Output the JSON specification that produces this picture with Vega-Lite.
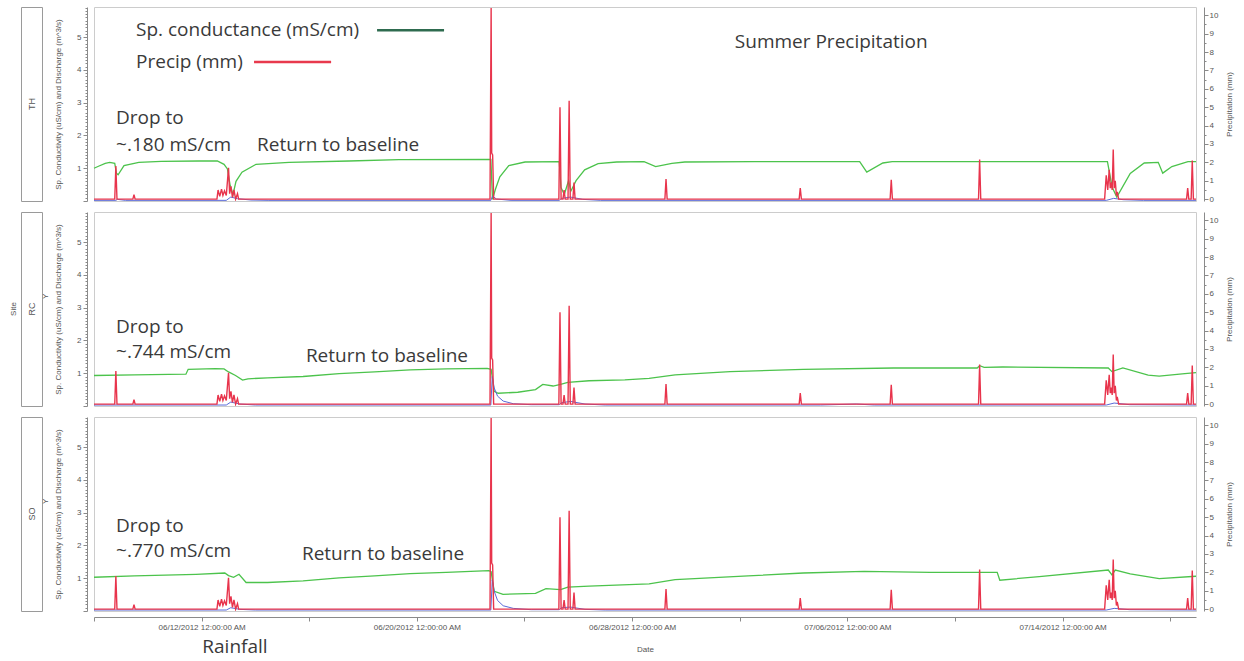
{
  "$schema": "https://vega.github.io/schema/vega-lite/v6.json",
  "background": "white",
  "padding": {"left": 9, "top": 3, "right": 2, "bottom": 2},
  "bounds": "flush",
  "spacing": 73,
  "config": {
    "font": "Liberation Sans",
    "view": {"stroke": "#cccccc"},
    "axis": {"labelFont": "Liberation Sans", "titleFont": "Liberation Sans", "labelFontSize": 8, "titleFontSize": 8, "labelColor": "#555555", "titleColor": "#555555", "titleFontWeight": "normal", "domainColor": "#8a8a8a", "tickColor": "#8a8a8a", "grid": false, "labelOverlap": false, "labelFlush": false, "labelBound": false}
  },
  "datasets": {
    "precip": [
      {"t": "2012-06-08T00:00", "mm": 0},
      {"t": "2012-06-08T18:30", "mm": 0}, {"t": "2012-06-08T19:30", "mm": 1.8}, {"t": "2012-06-08T20:30", "mm": 0},
      {"t": "2012-06-09T10:40", "mm": 0}, {"t": "2012-06-09T11:40", "mm": 0.25}, {"t": "2012-06-09T12:40", "mm": 0},
      {"t": "2012-06-12T13:40", "mm": 0}, {"t": "2012-06-12T14:40", "mm": 0.5}, {"t": "2012-06-12T16:10", "mm": 0.15}, {"t": "2012-06-12T17:45", "mm": 0.55}, {"t": "2012-06-12T19:00", "mm": 0.2}, {"t": "2012-06-12T20:25", "mm": 0.45}, {"t": "2012-06-12T22:00", "mm": 0.2}, {"t": "2012-06-13T00:00", "mm": 1.7}, {"t": "2012-06-13T01:00", "mm": 0.3}, {"t": "2012-06-13T02:10", "mm": 0.7}, {"t": "2012-06-13T03:30", "mm": 0.1}, {"t": "2012-06-13T04:50", "mm": 0.5}, {"t": "2012-06-13T06:20", "mm": 0}, {"t": "2012-06-13T08:00", "mm": 0.3}, {"t": "2012-06-13T09:00", "mm": 0},
      {"t": "2012-06-22T17:15", "mm": 0}, {"t": "2012-06-22T18:15", "mm": 10.4}, {"t": "2012-06-22T18:45", "mm": 2.5}, {"t": "2012-06-22T19:35", "mm": 2.4}, {"t": "2012-06-22T20:30", "mm": 0},
      {"t": "2012-06-25T06:40", "mm": 0}, {"t": "2012-06-25T07:40", "mm": 5.0}, {"t": "2012-06-25T08:40", "mm": 0},
      {"t": "2012-06-25T10:20", "mm": 0}, {"t": "2012-06-25T11:20", "mm": 0.5}, {"t": "2012-06-25T12:20", "mm": 0},
      {"t": "2012-06-25T14:50", "mm": 0}, {"t": "2012-06-25T15:50", "mm": 5.35}, {"t": "2012-06-25T16:50", "mm": 0},
      {"t": "2012-06-25T19:10", "mm": 0}, {"t": "2012-06-25T20:10", "mm": 0.9}, {"t": "2012-06-25T21:10", "mm": 0},
      {"t": "2012-06-29T05:15", "mm": 0}, {"t": "2012-06-29T06:15", "mm": 1.1}, {"t": "2012-06-29T07:15", "mm": 0},
      {"t": "2012-07-04T05:00", "mm": 0}, {"t": "2012-07-04T06:00", "mm": 0.6}, {"t": "2012-07-04T07:00", "mm": 0},
      {"t": "2012-07-07T14:10", "mm": 0}, {"t": "2012-07-07T15:10", "mm": 1.05}, {"t": "2012-07-07T16:10", "mm": 0},
      {"t": "2012-07-10T21:00", "mm": 0}, {"t": "2012-07-10T22:00", "mm": 2.15}, {"t": "2012-07-10T23:00", "mm": 0},
      {"t": "2012-07-15T13:30", "mm": 0}, {"t": "2012-07-15T14:55", "mm": 1.3}, {"t": "2012-07-15T16:15", "mm": 0.5}, {"t": "2012-07-15T17:35", "mm": 1.6}, {"t": "2012-07-15T18:30", "mm": 0.6}, {"t": "2012-07-15T19:25", "mm": 0.9}, {"t": "2012-07-15T20:15", "mm": 0.5}, {"t": "2012-07-15T21:10", "mm": 2.7}, {"t": "2012-07-15T22:00", "mm": 0.6}, {"t": "2012-07-15T23:00", "mm": 1.0}, {"t": "2012-07-16T00:00", "mm": 0.2}, {"t": "2012-07-16T00:45", "mm": 0.4}, {"t": "2012-07-16T02:00", "mm": 0},
      {"t": "2012-07-18T14:35", "mm": 0}, {"t": "2012-07-18T15:35", "mm": 0.6}, {"t": "2012-07-18T16:35", "mm": 0},
      {"t": "2012-07-18T18:40", "mm": 0}, {"t": "2012-07-18T19:40", "mm": 2.1}, {"t": "2012-07-18T20:40", "mm": 0}, {"t": "2012-07-18T23:00", "mm": 0}
    ],
    "cond": [
      {"site": "TH", "t": "2012-06-08T00:00", "v": 1.0}, {"site": "TH", "t": "2012-06-08T04:00", "v": 1.06}, {"site": "TH", "t": "2012-06-08T10:00", "v": 1.15}, {"site": "TH", "t": "2012-06-08T14:00", "v": 1.18}, {"site": "TH", "t": "2012-06-08T18:30", "v": 1.15}, {"site": "TH", "t": "2012-06-08T20:00", "v": 0.85}, {"site": "TH", "t": "2012-06-08T21:30", "v": 0.8}, {"site": "TH", "t": "2012-06-09T02:45", "v": 1.08}, {"site": "TH", "t": "2012-06-09T16:00", "v": 1.18}, {"site": "TH", "t": "2012-06-10T12:00", "v": 1.21}, {"site": "TH", "t": "2012-06-11T21:40", "v": 1.22}, {"site": "TH", "t": "2012-06-12T14:00", "v": 1.22}, {"site": "TH", "t": "2012-06-12T20:00", "v": 1.12}, {"site": "TH", "t": "2012-06-12T23:00", "v": 0.98}, {"site": "TH", "t": "2012-06-13T01:20", "v": 0.5}, {"site": "TH", "t": "2012-06-13T04:00", "v": 0.2}, {"site": "TH", "t": "2012-06-13T06:40", "v": 0.6}, {"site": "TH", "t": "2012-06-13T12:00", "v": 0.88}, {"site": "TH", "t": "2012-06-14T00:30", "v": 1.12}, {"site": "TH", "t": "2012-06-15T06:00", "v": 1.18}, {"site": "TH", "t": "2012-06-17T11:30", "v": 1.22}, {"site": "TH", "t": "2012-06-19T08:00", "v": 1.26}, {"site": "TH", "t": "2012-06-22T18:00", "v": 1.27}, {"site": "TH", "t": "2012-06-22T19:30", "v": 0.05}, {"site": "TH", "t": "2012-06-22T22:00", "v": 0.35}, {"site": "TH", "t": "2012-06-23T02:00", "v": 0.74}, {"site": "TH", "t": "2012-06-23T10:00", "v": 1.08}, {"site": "TH", "t": "2012-06-24T00:30", "v": 1.19}, {"site": "TH", "t": "2012-06-25T07:00", "v": 1.2}, {"site": "TH", "t": "2012-06-25T08:30", "v": 0.42}, {"site": "TH", "t": "2012-06-25T11:30", "v": 0.2}, {"site": "TH", "t": "2012-06-25T15:20", "v": 0.62}, {"site": "TH", "t": "2012-06-25T17:20", "v": 0.3}, {"site": "TH", "t": "2012-06-25T22:00", "v": 0.62}, {"site": "TH", "t": "2012-06-26T05:40", "v": 0.95}, {"site": "TH", "t": "2012-06-26T17:40", "v": 1.14}, {"site": "TH", "t": "2012-06-27T10:15", "v": 1.19}, {"site": "TH", "t": "2012-06-28T10:40", "v": 1.2}, {"site": "TH", "t": "2012-06-28T21:00", "v": 1.05}, {"site": "TH", "t": "2012-06-29T11:30", "v": 1.15}, {"site": "TH", "t": "2012-06-29T23:00", "v": 1.19}, {"site": "TH", "t": "2012-07-02T12:50", "v": 1.2}, {"site": "TH", "t": "2012-07-06T11:00", "v": 1.2}, {"site": "TH", "t": "2012-07-06T17:20", "v": 0.88}, {"site": "TH", "t": "2012-07-07T07:40", "v": 1.16}, {"site": "TH", "t": "2012-07-07T16:00", "v": 1.2}, {"site": "TH", "t": "2012-07-11T15:00", "v": 1.2}, {"site": "TH", "t": "2012-07-15T16:00", "v": 1.2}, {"site": "TH", "t": "2012-07-15T20:15", "v": 0.42}, {"site": "TH", "t": "2012-07-16T00:20", "v": 0.12}, {"site": "TH", "t": "2012-07-16T12:20", "v": 0.84}, {"site": "TH", "t": "2012-07-17T00:50", "v": 1.16}, {"site": "TH", "t": "2012-07-17T13:20", "v": 1.18}, {"site": "TH", "t": "2012-07-17T17:20", "v": 0.85}, {"site": "TH", "t": "2012-07-18T01:30", "v": 1.05}, {"site": "TH", "t": "2012-07-18T15:50", "v": 1.2}, {"site": "TH", "t": "2012-07-18T23:00", "v": 1.2},
      {"site": "RC", "t": "2012-06-08T00:00", "v": 0.93}, {"site": "RC", "t": "2012-06-09T12:00", "v": 0.95}, {"site": "RC", "t": "2012-06-11T10:00", "v": 0.97}, {"site": "RC", "t": "2012-06-11T12:00", "v": 1.12}, {"site": "RC", "t": "2012-06-12T12:00", "v": 1.14}, {"site": "RC", "t": "2012-06-12T20:00", "v": 1.13}, {"site": "RC", "t": "2012-06-13T00:00", "v": 1.04}, {"site": "RC", "t": "2012-06-13T06:15", "v": 0.93}, {"site": "RC", "t": "2012-06-13T12:30", "v": 0.79}, {"site": "RC", "t": "2012-06-13T17:20", "v": 0.83}, {"site": "RC", "t": "2012-06-14T10:50", "v": 0.86}, {"site": "RC", "t": "2012-06-15T18:30", "v": 0.9}, {"site": "RC", "t": "2012-06-17T02:40", "v": 0.99}, {"site": "RC", "t": "2012-06-18T10:20", "v": 1.04}, {"site": "RC", "t": "2012-06-19T18:00", "v": 1.1}, {"site": "RC", "t": "2012-06-21T02:10", "v": 1.13}, {"site": "RC", "t": "2012-06-22T14:40", "v": 1.15}, {"site": "RC", "t": "2012-06-22T18:15", "v": 1.12}, {"site": "RC", "t": "2012-06-22T19:15", "v": 0.88}, {"site": "RC", "t": "2012-06-22T21:00", "v": 0.45}, {"site": "RC", "t": "2012-06-23T00:30", "v": 0.39}, {"site": "RC", "t": "2012-06-23T18:00", "v": 0.42}, {"site": "RC", "t": "2012-06-24T09:50", "v": 0.5}, {"site": "RC", "t": "2012-06-24T16:20", "v": 0.66}, {"site": "RC", "t": "2012-06-25T01:30", "v": 0.61}, {"site": "RC", "t": "2012-06-25T08:10", "v": 0.66}, {"site": "RC", "t": "2012-06-25T14:40", "v": 0.72}, {"site": "RC", "t": "2012-06-26T09:40", "v": 0.77}, {"site": "RC", "t": "2012-06-27T17:30", "v": 0.8}, {"site": "RC", "t": "2012-06-28T15:10", "v": 0.84}, {"site": "RC", "t": "2012-06-29T14:20", "v": 0.95}, {"site": "RC", "t": "2012-07-01T15:25", "v": 1.05}, {"site": "RC", "t": "2012-07-04T08:40", "v": 1.12}, {"site": "RC", "t": "2012-07-07T17:20", "v": 1.16}, {"site": "RC", "t": "2012-07-10T19:50", "v": 1.16}, {"site": "RC", "t": "2012-07-10T22:00", "v": 1.23}, {"site": "RC", "t": "2012-07-11T02:00", "v": 1.18}, {"site": "RC", "t": "2012-07-11T18:40", "v": 1.19}, {"site": "RC", "t": "2012-07-15T16:45", "v": 1.16}, {"site": "RC", "t": "2012-07-15T20:00", "v": 1.05}, {"site": "RC", "t": "2012-07-16T05:45", "v": 1.16}, {"site": "RC", "t": "2012-07-17T04:20", "v": 0.94}, {"site": "RC", "t": "2012-07-17T14:10", "v": 0.91}, {"site": "RC", "t": "2012-07-18T13:00", "v": 0.99}, {"site": "RC", "t": "2012-07-18T23:00", "v": 1.02},
      {"site": "SO", "t": "2012-06-08T00:00", "v": 1.03}, {"site": "SO", "t": "2012-06-09T12:00", "v": 1.07}, {"site": "SO", "t": "2012-06-11T19:00", "v": 1.12}, {"site": "SO", "t": "2012-06-12T20:40", "v": 1.16}, {"site": "SO", "t": "2012-06-13T00:00", "v": 1.08}, {"site": "SO", "t": "2012-06-13T04:30", "v": 1.03}, {"site": "SO", "t": "2012-06-13T09:20", "v": 1.12}, {"site": "SO", "t": "2012-06-13T15:40", "v": 0.87}, {"site": "SO", "t": "2012-06-14T10:50", "v": 0.87}, {"site": "SO", "t": "2012-06-15T18:30", "v": 0.92}, {"site": "SO", "t": "2012-06-17T02:40", "v": 1.01}, {"site": "SO", "t": "2012-06-18T10:20", "v": 1.07}, {"site": "SO", "t": "2012-06-19T18:00", "v": 1.14}, {"site": "SO", "t": "2012-06-21T02:10", "v": 1.18}, {"site": "SO", "t": "2012-06-22T16:20", "v": 1.23}, {"site": "SO", "t": "2012-06-22T18:15", "v": 1.2}, {"site": "SO", "t": "2012-06-22T19:30", "v": 0.92}, {"site": "SO", "t": "2012-06-22T21:00", "v": 0.6}, {"site": "SO", "t": "2012-06-23T04:50", "v": 0.51}, {"site": "SO", "t": "2012-06-24T09:50", "v": 0.54}, {"site": "SO", "t": "2012-06-24T19:10", "v": 0.68}, {"site": "SO", "t": "2012-06-25T08:10", "v": 0.65}, {"site": "SO", "t": "2012-06-25T14:40", "v": 0.73}, {"site": "SO", "t": "2012-06-26T09:40", "v": 0.76}, {"site": "SO", "t": "2012-06-28T15:10", "v": 0.83}, {"site": "SO", "t": "2012-06-29T14:20", "v": 0.96}, {"site": "SO", "t": "2012-07-02T07:30", "v": 1.07}, {"site": "SO", "t": "2012-07-04T08:40", "v": 1.16}, {"site": "SO", "t": "2012-07-06T15:00", "v": 1.21}, {"site": "SO", "t": "2012-07-09T02:00", "v": 1.18}, {"site": "SO", "t": "2012-07-11T13:40", "v": 1.18}, {"site": "SO", "t": "2012-07-11T16:00", "v": 0.94}, {"site": "SO", "t": "2012-07-13T03:10", "v": 1.05}, {"site": "SO", "t": "2012-07-15T16:45", "v": 1.25}, {"site": "SO", "t": "2012-07-15T20:00", "v": 1.1}, {"site": "SO", "t": "2012-07-15T23:00", "v": 1.25}, {"site": "SO", "t": "2012-07-16T12:20", "v": 1.13}, {"site": "SO", "t": "2012-07-17T14:10", "v": 0.99}, {"site": "SO", "t": "2012-07-18T23:00", "v": 1.06}
    ],
    "discharge": [
      {"site": "TH", "t": "2012-06-08T00:00", "v": 0.02}, {"site": "TH", "t": "2012-06-08T19:30", "v": 0.02}, {"site": "TH", "t": "2012-06-08T21:00", "v": 0.05}, {"site": "TH", "t": "2012-06-09T04:00", "v": 0.02}, {"site": "TH", "t": "2012-06-12T22:00", "v": 0.02}, {"site": "TH", "t": "2012-06-13T02:00", "v": 0.12}, {"site": "TH", "t": "2012-06-13T08:00", "v": 0.07}, {"site": "TH", "t": "2012-06-13T20:00", "v": 0.03}, {"site": "TH", "t": "2012-06-14T12:00", "v": 0.02}, {"site": "TH", "t": "2012-06-22T18:00", "v": 0.02}, {"site": "TH", "t": "2012-06-22T19:30", "v": 0.15}, {"site": "TH", "t": "2012-06-22T23:00", "v": 0.06}, {"site": "TH", "t": "2012-06-23T12:00", "v": 0.02}, {"site": "TH", "t": "2012-06-25T07:00", "v": 0.02}, {"site": "TH", "t": "2012-06-25T09:00", "v": 0.08}, {"site": "TH", "t": "2012-06-25T17:00", "v": 0.12}, {"site": "TH", "t": "2012-06-26T04:00", "v": 0.05}, {"site": "TH", "t": "2012-06-26T20:00", "v": 0.02}, {"site": "TH", "t": "2012-07-15T15:00", "v": 0.02}, {"site": "TH", "t": "2012-07-15T21:30", "v": 0.08}, {"site": "TH", "t": "2012-07-16T06:00", "v": 0.04}, {"site": "TH", "t": "2012-07-17T00:00", "v": 0.02}, {"site": "TH", "t": "2012-07-18T23:00", "v": 0.02},
      {"site": "RC", "t": "2012-06-08T00:00", "v": 0.03}, {"site": "RC", "t": "2012-06-12T22:00", "v": 0.03}, {"site": "RC", "t": "2012-06-13T02:00", "v": 0.12}, {"site": "RC", "t": "2012-06-13T10:00", "v": 0.06}, {"site": "RC", "t": "2012-06-14T00:00", "v": 0.03}, {"site": "RC", "t": "2012-06-22T18:00", "v": 0.03}, {"site": "RC", "t": "2012-06-22T19:15", "v": 0.9}, {"site": "RC", "t": "2012-06-22T21:00", "v": 0.55}, {"site": "RC", "t": "2012-06-23T00:00", "v": 0.3}, {"site": "RC", "t": "2012-06-23T05:00", "v": 0.15}, {"site": "RC", "t": "2012-06-23T14:00", "v": 0.07}, {"site": "RC", "t": "2012-06-24T06:00", "v": 0.04}, {"site": "RC", "t": "2012-06-25T07:00", "v": 0.04}, {"site": "RC", "t": "2012-06-25T09:00", "v": 0.1}, {"site": "RC", "t": "2012-06-25T17:00", "v": 0.14}, {"site": "RC", "t": "2012-06-26T06:00", "v": 0.06}, {"site": "RC", "t": "2012-06-27T00:00", "v": 0.03}, {"site": "RC", "t": "2012-07-05T00:00", "v": 0.03}, {"site": "RC", "t": "2012-07-06T08:00", "v": 0.06}, {"site": "RC", "t": "2012-07-07T00:00", "v": 0.03}, {"site": "RC", "t": "2012-07-15T15:00", "v": 0.03}, {"site": "RC", "t": "2012-07-15T22:00", "v": 0.09}, {"site": "RC", "t": "2012-07-16T12:00", "v": 0.04}, {"site": "RC", "t": "2012-07-18T23:00", "v": 0.03},
      {"site": "SO", "t": "2012-06-08T00:00", "v": 0.03}, {"site": "SO", "t": "2012-06-12T22:00", "v": 0.03}, {"site": "SO", "t": "2012-06-13T02:00", "v": 0.1}, {"site": "SO", "t": "2012-06-13T10:00", "v": 0.05}, {"site": "SO", "t": "2012-06-14T00:00", "v": 0.03}, {"site": "SO", "t": "2012-06-22T18:00", "v": 0.03}, {"site": "SO", "t": "2012-06-22T19:15", "v": 0.95}, {"site": "SO", "t": "2012-06-22T21:00", "v": 0.6}, {"site": "SO", "t": "2012-06-23T00:00", "v": 0.32}, {"site": "SO", "t": "2012-06-23T05:00", "v": 0.16}, {"site": "SO", "t": "2012-06-23T14:00", "v": 0.08}, {"site": "SO", "t": "2012-06-24T06:00", "v": 0.04}, {"site": "SO", "t": "2012-06-25T07:00", "v": 0.04}, {"site": "SO", "t": "2012-06-25T09:00", "v": 0.1}, {"site": "SO", "t": "2012-06-25T17:00", "v": 0.12}, {"site": "SO", "t": "2012-06-26T06:00", "v": 0.05}, {"site": "SO", "t": "2012-06-27T00:00", "v": 0.03}, {"site": "SO", "t": "2012-07-15T15:00", "v": 0.03}, {"site": "SO", "t": "2012-07-15T22:00", "v": 0.08}, {"site": "SO", "t": "2012-07-16T12:00", "v": 0.04}, {"site": "SO", "t": "2012-07-18T23:00", "v": 0.03}
    ]
  },
  "hconcat": [
    {
      "bounds": "flush",
      "spacing": 11,
      "title": {"text": "Site", "orient": "left", "anchor": "middle", "font": "Liberation Sans", "fontSize": 8, "fontWeight": "normal", "color": "#555555", "offset": 3},
      "vconcat": [
        {"width": 21, "height": 194, "view": {"stroke": "#9a9a9a"}, "data": {"values": [{"site": "TH"}]}, "mark": {"type": "text", "angle": 270, "font": "Liberation Sans", "fontSize": 9, "color": "#555555"}, "encoding": {"text": {"field": "site", "type": "nominal"}}},
        {"width": 21, "height": 194, "view": {"stroke": "#9a9a9a"}, "data": {"values": [{"site": "RC"}]}, "mark": {"type": "text", "angle": 270, "font": "Liberation Sans", "fontSize": 9, "color": "#555555"}, "encoding": {"text": {"field": "site", "type": "nominal"}}},
        {"width": 21, "height": 194, "view": {"stroke": "#9a9a9a"}, "data": {"values": [{"site": "SO"}]}, "mark": {"type": "text", "angle": 270, "font": "Liberation Sans", "fontSize": 9, "color": "#555555"}, "encoding": {"text": {"field": "site", "type": "nominal"}}}
      ]
    },
    {
      "bounds": "flush",
      "spacing": 11,
      "vconcat": [
        {
          "width": 1102, "height": 194,
          "resolve": {"scale": {"y": "independent"}},
          "layer": [
            {"data": {"name": "cond"}, "transform": [{"filter": "datum.site === 'TH'"}], "mark": {"type": "line", "color": "#4cc34c", "strokeWidth": 1.3},
             "encoding": {"x": {"field": "t", "type": "temporal", "scale": {"domain": [{"year": 2012, "month": 6, "date": 8}, {"year": 2012, "month": 7, "date": 18, "hours": 23}]}, "axis": null},
                          "y": {"field": "v", "type": "quantitative", "scale": {"domain": [0, 5.92], "nice": false, "zero": false},
                                "axis": {"orient": "left", "offset": 7, "values": [0,0.1,0.2,0.3,0.4,0.5,0.6,0.7,0.8,0.9,1,1.1,1.2,1.3,1.4,1.5,1.6,1.7,1.8,1.9,2,2.1,2.2,2.3,2.4,2.5,2.6,2.7,2.8,2.9,3,3.1,3.2,3.3,3.4,3.5,3.6,3.7,3.8,3.9,4,4.1,4.2,4.3,4.4,4.5,4.6,4.7,4.8,4.9,5,5.1,5.2,5.3,5.4,5.5,5.6,5.7,5.8,5.9],
                                         "labelExpr": "(datum.value > 0.5 && abs(datum.value - round(datum.value)) < 0.001) ? format(datum.value, 'd') : ''",
                                         "tickSize": {"condition": {"test": "abs(datum.value - round(datum.value)) < 0.001", "value": 4}, "value": 2},
                                         "labelPadding": 2, "titleColor": "#555555", "title": "Sp. Conductivity (uS/cm) and Discharge (m^3/s)", "titlePadding": 14}}}},
            {"data": {"name": "discharge"}, "transform": [{"filter": "datum.site === 'TH'"}], "mark": {"type": "line", "color": "#5a6ad8", "strokeWidth": 1},
             "encoding": {"x": {"field": "t", "type": "temporal", "axis": null}, "y": {"field": "v", "type": "quantitative", "scale": {"domain": [0, 5.92], "nice": false, "zero": false}, "axis": null}}},
            {"data": {"values": [{}]}, "mark": {"type": "text", "font": "Open Sans", "fontSize": 19, "color": "#3a3a3a", "align": "left", "baseline": "middle"},
             "encoding": {"x": {"datum": {"year": 2012, "month": 6, "date": 9, "hours": 13, "minutes": 30}, "type": "temporal", "axis": null}, "y": {"datum": 5.21, "type": "quantitative", "scale": {"domain": [0, 5.92], "nice": false, "zero": false}, "axis": null}, "text": {"value": "Sp. conductance (mS/cm)"}}},
            {"data": {"values": [{}]}, "mark": {"type": "rule", "color": "#2e6b4f", "strokeWidth": 2.5},
             "encoding": {"x": {"datum": {"year": 2012, "month": 6, "date": 18, "hours": 12, "minutes": 30}, "type": "temporal", "axis": null}, "x2": {"datum": {"year": 2012, "month": 6, "date": 21, "hours": 0, "minutes": 15}}, "y": {"datum": 5.21, "type": "quantitative", "scale": {"domain": [0, 5.92], "nice": false, "zero": false}, "axis": null}}},
            {"data": {"values": [{}]}, "mark": {"type": "text", "font": "Open Sans", "fontSize": 19, "color": "#3a3a3a", "align": "left", "baseline": "middle"},
             "encoding": {"x": {"datum": {"year": 2012, "month": 6, "date": 9, "hours": 13, "minutes": 30}, "type": "temporal", "axis": null}, "y": {"datum": 4.24, "type": "quantitative", "scale": {"domain": [0, 5.92], "nice": false, "zero": false}, "axis": null}, "text": {"value": "Precip (mm)"}}},
            {"data": {"values": [{}]}, "mark": {"type": "rule", "color": "#e8394d", "strokeWidth": 2.5},
             "encoding": {"x": {"datum": {"year": 2012, "month": 6, "date": 13, "hours": 22, "minutes": 45}, "type": "temporal", "axis": null}, "x2": {"datum": {"year": 2012, "month": 6, "date": 16, "hours": 19, "minutes": 30}}, "y": {"datum": 4.24, "type": "quantitative", "scale": {"domain": [0, 5.92], "nice": false, "zero": false}, "axis": null}}},
            {"data": {"values": [{}]}, "mark": {"type": "text", "font": "Open Sans", "fontSize": 19, "color": "#3a3a3a", "align": "center", "baseline": "middle"},
             "encoding": {"x": {"datum": {"year": 2012, "month": 7, "date": 5, "hours": 9, "minutes": 36}, "type": "temporal", "axis": null}, "y": {"datum": 4.85, "type": "quantitative", "scale": {"domain": [0, 5.92], "nice": false, "zero": false}, "axis": null}, "text": {"value": "Summer Precipitation"}}},
            {"data": {"values": [{}]}, "mark": {"type": "text", "font": "Open Sans", "fontSize": 19, "color": "#3a3a3a", "align": "left", "baseline": "middle"},
             "encoding": {"x": {"datum": {"year": 2012, "month": 6, "date": 8, "hours": 19, "minutes": 40}, "type": "temporal", "axis": null}, "y": {"datum": 2.53, "type": "quantitative", "scale": {"domain": [0, 5.92], "nice": false, "zero": false}, "axis": null}, "text": {"value": "Drop to"}}},
            {"data": {"values": [{}]}, "mark": {"type": "text", "font": "Open Sans", "fontSize": 19, "color": "#3a3a3a", "align": "left", "baseline": "middle"},
             "encoding": {"x": {"datum": {"year": 2012, "month": 6, "date": 8, "hours": 19, "minutes": 40}, "type": "temporal", "axis": null}, "y": {"datum": 1.71, "type": "quantitative", "scale": {"domain": [0, 5.92], "nice": false, "zero": false}, "axis": null}, "text": {"value": "~.180 mS/cm"}}},
            {"data": {"values": [{}]}, "mark": {"type": "text", "font": "Open Sans", "fontSize": 19, "color": "#3a3a3a", "align": "left", "baseline": "middle"},
             "encoding": {"x": {"datum": {"year": 2012, "month": 6, "date": 14, "hours": 1, "minutes": 30}, "type": "temporal", "axis": null}, "y": {"datum": 1.71, "type": "quantitative", "scale": {"domain": [0, 5.92], "nice": false, "zero": false}, "axis": null}, "text": {"value": "Return to baseline"}}},
            {"data": {"name": "precip"}, "mark": {"type": "line", "color": "#e8344c", "strokeWidth": 1.4, "clip": true},
             "encoding": {"x": {"field": "t", "type": "temporal", "axis": null},
                          "y": {"field": "mm", "type": "quantitative", "scale": {"domain": [-0.1, 10.45], "nice": false, "zero": false},
                                "axis": {"orient": "right", "offset": 8, "values": [0,0.5,1,1.5,2,2.5,3,3.5,4,4.5,5,5.5,6,6.5,7,7.5,8,8.5,9,9.5,10],
                                         "labelExpr": "abs(datum.value - round(datum.value)) < 0.001 ? format(datum.value, 'd') : ''",
                                         "tickSize": {"condition": {"test": "abs(datum.value - round(datum.value)) < 0.001", "value": 4}, "value": 2},
                                         "labelPadding": 1, "titleColor": "#555555", "title": "Precipitation (mm)", "titleAngle": 270, "titleBaseline": "top", "titlePadding": 8}}}}
          ]
        },
        {
          "width": 1102, "height": 194,
          "resolve": {"scale": {"y": "independent"}},
          "layer": [
            {"data": {"name": "cond"}, "transform": [{"filter": "datum.site === 'RC'"}], "mark": {"type": "line", "color": "#4cc34c", "strokeWidth": 1.3},
             "encoding": {"x": {"field": "t", "type": "temporal", "scale": {"domain": [{"year": 2012, "month": 6, "date": 8}, {"year": 2012, "month": 7, "date": 18, "hours": 23}]}, "axis": null},
                          "y": {"field": "v", "type": "quantitative", "scale": {"domain": [0, 5.92], "nice": false, "zero": false},
                                "axis": {"orient": "left", "offset": 7, "values": [0,0.1,0.2,0.3,0.4,0.5,0.6,0.7,0.8,0.9,1,1.1,1.2,1.3,1.4,1.5,1.6,1.7,1.8,1.9,2,2.1,2.2,2.3,2.4,2.5,2.6,2.7,2.8,2.9,3,3.1,3.2,3.3,3.4,3.5,3.6,3.7,3.8,3.9,4,4.1,4.2,4.3,4.4,4.5,4.6,4.7,4.8,4.9,5,5.1,5.2,5.3,5.4,5.5,5.6,5.7,5.8,5.9],
                                         "labelExpr": "(datum.value > 0.5 && abs(datum.value - round(datum.value)) < 0.001) ? format(datum.value, 'd') : ''",
                                         "tickSize": {"condition": {"test": "abs(datum.value - round(datum.value)) < 0.001", "value": 4}, "value": 2},
                                         "labelPadding": 2, "titleColor": "#555555", "title": "Sp. Conductivity (uS/cm) and Discharge (m^3/s)", "titlePadding": 14}}}},
            {"data": {"name": "discharge"}, "transform": [{"filter": "datum.site === 'RC'"}], "mark": {"type": "line", "color": "#5a6ad8", "strokeWidth": 1},
             "encoding": {"x": {"field": "t", "type": "temporal", "axis": null}, "y": {"field": "v", "type": "quantitative", "scale": {"domain": [0, 5.92], "nice": false, "zero": false}, "axis": null}}},
            {"data": {"values": [{}]}, "mark": {"type": "text", "font": "Liberation Sans", "fontSize": 8, "color": "#555555", "angle": 270, "align": "center", "baseline": "middle"},
             "encoding": {"x": {"datum": {"year": 2012, "month": 6, "date": 6, "hours": 5}, "type": "temporal", "axis": null}, "y": {"datum": 3.35, "type": "quantitative", "scale": {"domain": [0, 5.92], "nice": false, "zero": false}, "axis": null}, "text": {"value": "Y"}}},
            {"data": {"values": [{}]}, "mark": {"type": "text", "font": "Open Sans", "fontSize": 19, "color": "#3a3a3a", "align": "left", "baseline": "middle"},
             "encoding": {"x": {"datum": {"year": 2012, "month": 6, "date": 8, "hours": 19, "minutes": 40}, "type": "temporal", "axis": null}, "y": {"datum": 2.41, "type": "quantitative", "scale": {"domain": [0, 5.92], "nice": false, "zero": false}, "axis": null}, "text": {"value": "Drop to"}}},
            {"data": {"values": [{}]}, "mark": {"type": "text", "font": "Open Sans", "fontSize": 19, "color": "#3a3a3a", "align": "left", "baseline": "middle"},
             "encoding": {"x": {"datum": {"year": 2012, "month": 6, "date": 8, "hours": 19, "minutes": 40}, "type": "temporal", "axis": null}, "y": {"datum": 1.65, "type": "quantitative", "scale": {"domain": [0, 5.92], "nice": false, "zero": false}, "axis": null}, "text": {"value": "~.744 mS/cm"}}},
            {"data": {"values": [{}]}, "mark": {"type": "text", "font": "Open Sans", "fontSize": 19, "color": "#3a3a3a", "align": "left", "baseline": "middle"},
             "encoding": {"x": {"datum": {"year": 2012, "month": 6, "date": 15, "hours": 21, "minutes": 0}, "type": "temporal", "axis": null}, "y": {"datum": 1.52, "type": "quantitative", "scale": {"domain": [0, 5.92], "nice": false, "zero": false}, "axis": null}, "text": {"value": "Return to baseline"}}},
            {"data": {"name": "precip"}, "mark": {"type": "line", "color": "#e8344c", "strokeWidth": 1.4, "clip": true},
             "encoding": {"x": {"field": "t", "type": "temporal", "axis": null},
                          "y": {"field": "mm", "type": "quantitative", "scale": {"domain": [-0.1, 10.45], "nice": false, "zero": false},
                                "axis": {"orient": "right", "offset": 8, "values": [0,0.5,1,1.5,2,2.5,3,3.5,4,4.5,5,5.5,6,6.5,7,7.5,8,8.5,9,9.5,10],
                                         "labelExpr": "abs(datum.value - round(datum.value)) < 0.001 ? format(datum.value, 'd') : ''",
                                         "tickSize": {"condition": {"test": "abs(datum.value - round(datum.value)) < 0.001", "value": 4}, "value": 2},
                                         "labelPadding": 1, "titleColor": "#555555", "title": "Precipitation (mm)", "titleAngle": 270, "titleBaseline": "top", "titlePadding": 8}}}}
          ]
        },
        {
          "width": 1102, "height": 194,
          "resolve": {"scale": {"y": "independent"}},
          "layer": [
            {"data": {"name": "cond"}, "transform": [{"filter": "datum.site === 'SO'"}], "mark": {"type": "line", "color": "#4cc34c", "strokeWidth": 1.3},
             "encoding": {"x": {"field": "t", "type": "temporal", "scale": {"domain": [{"year": 2012, "month": 6, "date": 8}, {"year": 2012, "month": 7, "date": 18, "hours": 23}]},
                                "axis": {"offset": 6, "tickSize": 4, "labelPadding": 2, "title": "Date", "titleColor": "#555555", "titlePadding": 14,
                                         "values": [{"year": 2012, "month": 6, "date": 8}, {"year": 2012, "month": 6, "date": 12}, {"year": 2012, "month": 6, "date": 16}, {"year": 2012, "month": 6, "date": 20}, {"year": 2012, "month": 6, "date": 24}, {"year": 2012, "month": 6, "date": 28}, {"year": 2012, "month": 7, "date": 2}, {"year": 2012, "month": 7, "date": 6}, {"year": 2012, "month": 7, "date": 10}, {"year": 2012, "month": 7, "date": 14}, {"year": 2012, "month": 7, "date": 18}],
                                         "labelExpr": "indexof(['06/12','06/20','06/28','07/06','07/14'], timeFormat(datum.value, '%m/%d')) >= 0 ? timeFormat(datum.value, '%m/%d/%Y %I:%M:%S %p') : ''"}},
                          "y": {"field": "v", "type": "quantitative", "scale": {"domain": [0, 5.92], "nice": false, "zero": false},
                                "axis": {"orient": "left", "offset": 7, "values": [0,0.1,0.2,0.3,0.4,0.5,0.6,0.7,0.8,0.9,1,1.1,1.2,1.3,1.4,1.5,1.6,1.7,1.8,1.9,2,2.1,2.2,2.3,2.4,2.5,2.6,2.7,2.8,2.9,3,3.1,3.2,3.3,3.4,3.5,3.6,3.7,3.8,3.9,4,4.1,4.2,4.3,4.4,4.5,4.6,4.7,4.8,4.9,5,5.1,5.2,5.3,5.4,5.5,5.6,5.7,5.8,5.9],
                                         "labelExpr": "(datum.value > 0.5 && abs(datum.value - round(datum.value)) < 0.001) ? format(datum.value, 'd') : ''",
                                         "tickSize": {"condition": {"test": "abs(datum.value - round(datum.value)) < 0.001", "value": 4}, "value": 2},
                                         "labelPadding": 2, "titleColor": "#555555", "title": "Sp. Conductivity (uS/cm) and Discharge (m^3/s)", "titlePadding": 14}}}},
            {"data": {"name": "discharge"}, "transform": [{"filter": "datum.site === 'SO'"}], "mark": {"type": "line", "color": "#5a6ad8", "strokeWidth": 1},
             "encoding": {"x": {"field": "t", "type": "temporal"}, "y": {"field": "v", "type": "quantitative", "scale": {"domain": [0, 5.92], "nice": false, "zero": false}, "axis": null}}},
            {"data": {"values": [{}]}, "mark": {"type": "text", "font": "Liberation Sans", "fontSize": 8, "color": "#555555", "angle": 270, "align": "center", "baseline": "middle"},
             "encoding": {"x": {"datum": {"year": 2012, "month": 6, "date": 6, "hours": 5}, "type": "temporal"}, "y": {"datum": 3.35, "type": "quantitative", "scale": {"domain": [0, 5.92], "nice": false, "zero": false}, "axis": null}, "text": {"value": "Y"}}},
            {"data": {"values": [{}]}, "mark": {"type": "text", "font": "Open Sans", "fontSize": 19, "color": "#3a3a3a", "align": "left", "baseline": "middle"},
             "encoding": {"x": {"datum": {"year": 2012, "month": 6, "date": 8, "hours": 19, "minutes": 40}, "type": "temporal"}, "y": {"datum": 2.59, "type": "quantitative", "scale": {"domain": [0, 5.92], "nice": false, "zero": false}, "axis": null}, "text": {"value": "Drop to"}}},
            {"data": {"values": [{}]}, "mark": {"type": "text", "font": "Open Sans", "fontSize": 19, "color": "#3a3a3a", "align": "left", "baseline": "middle"},
             "encoding": {"x": {"datum": {"year": 2012, "month": 6, "date": 8, "hours": 19, "minutes": 40}, "type": "temporal"}, "y": {"datum": 1.83, "type": "quantitative", "scale": {"domain": [0, 5.92], "nice": false, "zero": false}, "axis": null}, "text": {"value": "~.770 mS/cm"}}},
            {"data": {"values": [{}]}, "mark": {"type": "text", "font": "Open Sans", "fontSize": 19, "color": "#3a3a3a", "align": "left", "baseline": "middle"},
             "encoding": {"x": {"datum": {"year": 2012, "month": 6, "date": 15, "hours": 17, "minutes": 30}, "type": "temporal"}, "y": {"datum": 1.74, "type": "quantitative", "scale": {"domain": [0, 5.92], "nice": false, "zero": false}, "axis": null}, "text": {"value": "Return to baseline"}}},
            {"data": {"values": [{}]}, "mark": {"type": "text", "font": "Open Sans", "fontSize": 19, "color": "#3a3a3a", "align": "center", "baseline": "middle"},
             "encoding": {"x": {"datum": {"year": 2012, "month": 6, "date": 13, "hours": 5, "minutes": 45}, "type": "temporal"}, "y": {"datum": -1.1, "type": "quantitative", "scale": {"domain": [0, 5.92], "nice": false, "zero": false}, "axis": null}, "text": {"value": "Rainfall"}}},
            {"data": {"name": "precip"}, "mark": {"type": "line", "color": "#e8344c", "strokeWidth": 1.4, "clip": true},
             "encoding": {"x": {"field": "t", "type": "temporal"},
                          "y": {"field": "mm", "type": "quantitative", "scale": {"domain": [-0.1, 10.45], "nice": false, "zero": false},
                                "axis": {"orient": "right", "offset": 8, "values": [0,0.5,1,1.5,2,2.5,3,3.5,4,4.5,5,5.5,6,6.5,7,7.5,8,8.5,9,9.5,10],
                                         "labelExpr": "abs(datum.value - round(datum.value)) < 0.001 ? format(datum.value, 'd') : ''",
                                         "tickSize": {"condition": {"test": "abs(datum.value - round(datum.value)) < 0.001", "value": 4}, "value": 2},
                                         "labelPadding": 1, "titleColor": "#555555", "title": "Precipitation (mm)", "titleAngle": 270, "titleBaseline": "top", "titlePadding": 8}}}}
          ]
        }
      ]
    }
  ]
}
